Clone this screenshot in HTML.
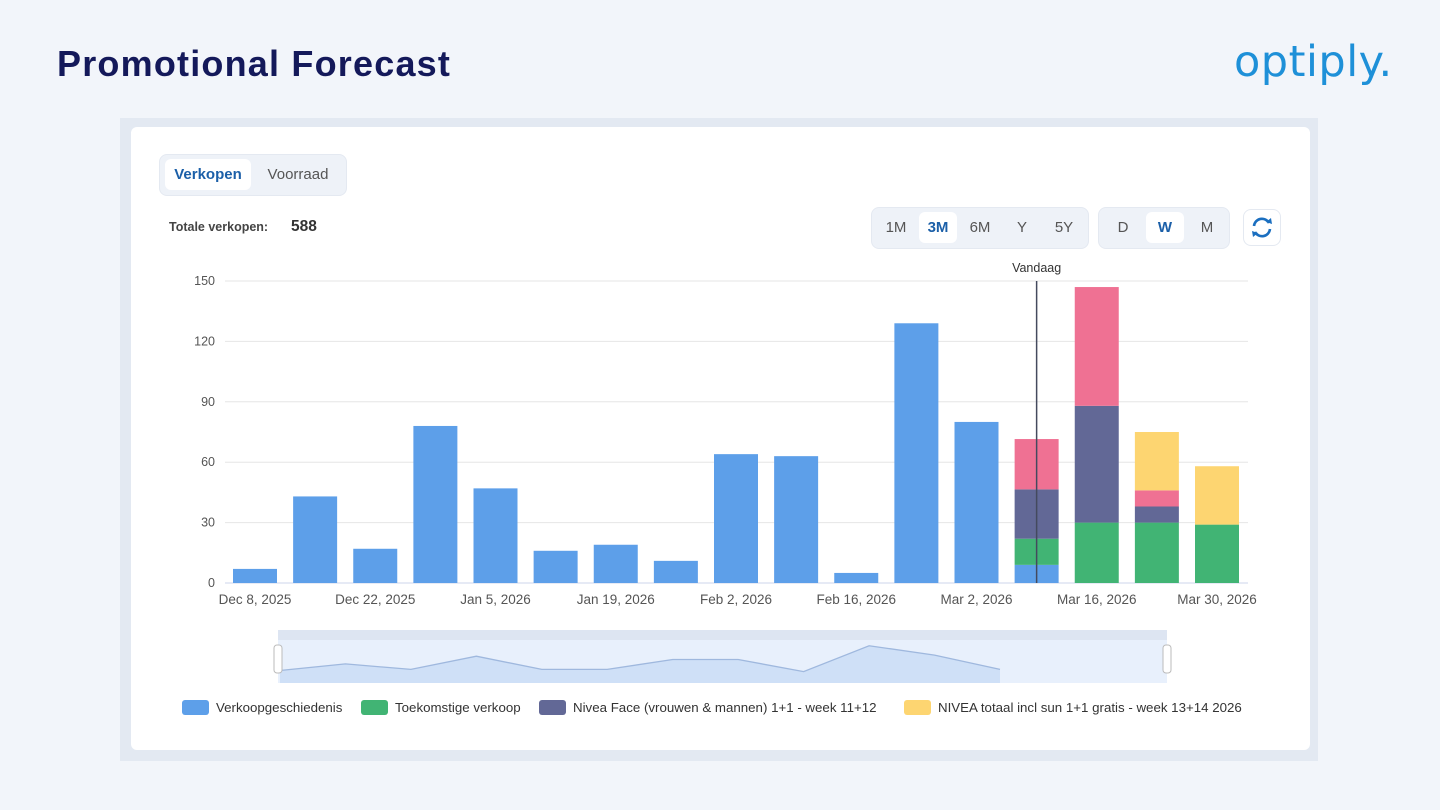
<!DOCTYPE html>
<html><head><meta charset="utf-8">
<style>
body{margin:0;width:1440px;height:810px;background:#f2f5fa;font-family:"Liberation Sans",sans-serif;overflow:hidden;position:relative}
.title{position:absolute;left:57px;top:43px;font-size:36px;font-weight:bold;color:#14195a;letter-spacing:1.2px}
.logo{position:absolute;left:1234px;top:37px;font-size:43px;color:#1e90d8;letter-spacing:0.5px;font-family:"DejaVu Sans",sans-serif}
.frame{position:absolute;left:120px;top:118px;width:1198px;height:643px;background:#e3e9f2}
.card{position:absolute;left:131px;top:127px;width:1179px;height:623px;background:#fff;border-radius:6px}
.seg{position:absolute;background:#eef2f8;border-radius:8px;border:1px solid #e4e9f1}
.btn{position:absolute;font-size:15px;color:#555;text-align:center}
.act{background:#fff;border-radius:6px;color:#1b5fa8;font-weight:bold}
</style></head><body>
<div class="title">Promotional Forecast</div>
<div class="logo">optiply.</div>
<div class="frame"></div>
<div class="card"></div>

<div class="seg" style="left:159px;top:154px;width:186px;height:40px"></div>
<div class="btn act" style="left:165px;top:159px;width:86px;height:31px;line-height:31px">Verkopen</div>
<div class="btn" style="left:255px;top:159px;width:86px;height:31px;line-height:31px">Voorraad</div>
<div style="position:absolute;left:169px;top:220px;font-size:12.5px;font-weight:bold;color:#444">Totale verkopen:</div>
<div style="position:absolute;left:291px;top:218px;font-size:15.5px;font-weight:bold;color:#333">588</div>

<div class="seg" style="left:871px;top:207px;width:216px;height:40px"></div>
<div class="btn" style="left:877px;top:212px;width:38px;height:31px;line-height:31px">1M</div>
<div class="btn act" style="left:919px;top:212px;width:38px;height:31px;line-height:31px">3M</div>
<div class="btn" style="left:961px;top:212px;width:38px;height:31px;line-height:31px">6M</div>
<div class="btn" style="left:1003px;top:212px;width:38px;height:31px;line-height:31px">Y</div>
<div class="btn" style="left:1045px;top:212px;width:38px;height:31px;line-height:31px">5Y</div>
<div class="seg" style="left:1098px;top:207px;width:130px;height:40px"></div>
<div class="btn" style="left:1104px;top:212px;width:38px;height:31px;line-height:31px">D</div>
<div class="btn act" style="left:1146px;top:212px;width:38px;height:31px;line-height:31px">W</div>
<div class="btn" style="left:1188px;top:212px;width:38px;height:31px;line-height:31px">M</div>
<div class="seg" style="left:1243px;top:209px;width:36px;height:35px;background:#fff">
<svg width="36" height="35" viewBox="0 0 36 35"><path d="M10 16 A8 8 0 0 1 25 13" fill="none" stroke="#1b6fc0" stroke-width="2.6"/><path d="M26 19 A8 8 0 0 1 11 22" fill="none" stroke="#1b6fc0" stroke-width="2.6"/><path d="M22 12 L28 14 L27 8Z" fill="#1b6fc0"/><path d="M14 23 L8 21 L9 27Z" fill="#1b6fc0"/></svg></div>

<svg id="chart" style="position:absolute;left:0;top:0" width="1440" height="810"></svg>

<script>
const categories=["Dec 8, 2025","Dec 15, 2025","Dec 22, 2025","Dec 29, 2025","Jan 5, 2026","Jan 12, 2026","Jan 19, 2026","Jan 26, 2026","Feb 2, 2026","Feb 9, 2026","Feb 16, 2026","Feb 23, 2026","Mar 2, 2026","Mar 9, 2026","Mar 16, 2026","Mar 23, 2026","Mar 30, 2026"];
const history=[7,43,17,78,47,16,19,11,64,63,5,129,80,9,0,0,0];
const future=[0,0,0,0,0,0,0,0,0,0,0,0,0,13,30,30,29];
const niveaFace=[0,0,0,0,0,0,0,0,0,0,0,0,0,24.5,58,8,0];
const promoPink=[0,0,0,0,0,0,0,0,0,0,0,0,0,25,59,8,0];
const niveaTotal=[0,0,0,0,0,0,0,0,0,0,0,0,0,0,0,29,29];
const yTicks=[0,30,60,90,120,150];
const todayIndex=13.0;
const navValues=[10,22,12,36,12,12,30,30,8,55,38,12];
const NS="http://www.w3.org/2000/svg";
const svg=document.getElementById('chart');
const x0=255,step=60.125,bw=44;
const X=i=>x0+i*step;
const Y=v=>583-v*302/150;
function el(t,a,p){const e=document.createElementNS(NS,t);for(const k in a)e.setAttribute(k,a[k]);(p||svg).appendChild(e);return e;}
yTicks.forEach(t=>{
 const g=el('line',{x1:225,x2:1248,y1:Y(t),y2:Y(t),stroke:t?'#e6e6e6':'#ccd6eb','stroke-width':1});
 
 
 const l=el('text',{x:215,y:Y(t)+4,'text-anchor':'end','font-size':12.5,fill:'#555'});l.textContent=t;
 
 
});
categories.forEach((c,i)=>{
 if(i%2===0){const l=el('text',{x:X(i),y:604,'text-anchor':'middle','font-size':13.5,fill:'#555'});l.textContent=c;
 
 }
 let base=0;
 [[history,'#5d9fe9','history'],[future,'#41b474','future'],[niveaFace,'#626896','nivea-face'],[promoPink,'#ef7193','promo'],[niveaTotal,'#fdd571','nivea-total']].forEach(([arr,col,n])=>{
  const v=arr[i];if(!v)return;
  const r=el('rect',{x:X(i)-bw/2,y:Y(base+v),width:bw,height:Y(base)-Y(base+v),fill:col});
  
  
  base+=v;
 });
});
const tx=X(todayIndex);
const tl=el('line',{x1:tx,x2:tx,y1:Y(150),y2:583,stroke:'#444a5e','stroke-width':1.5});


const tt=el('text',{x:tx,y:272,'text-anchor':'middle','font-size':12.5,fill:'#333'});tt.textContent='Vandaag';


const nb=el('rect',{x:278,y:630,width:889,height:53,fill:'#e8f0fc'});


const ns=el('rect',{x:278,y:630,width:889,height:10,fill:'#dde5f2'});


const nx0=280,nx1=1000,nyb=683;
const NX=i=>nx0+i*(nx1-nx0)/(navValues.length-1);
const NY=v=>676-v*0.55;
let d='M'+nx0+','+nyb;navValues.forEach((v,i)=>d+=' L'+NX(i)+','+NY(v));d+=' L'+nx1+','+nyb+'Z';
const na=el('path',{d:d,fill:'#cfe0f7',stroke:'none'});


let d2='M'+navValues.map((v,i)=>NX(i)+','+NY(v)).join(' L');
const nl=el('path',{d:d2,fill:'none',stroke:'#9fb8de','stroke-width':1.3});


[278,1167].forEach((hx,k)=>{const h=el('rect',{x:hx-4,y:645,width:8,height:28,rx:3,fill:'#fff',stroke:'#bbb'});
 
 });
const legendLabels=["Verkoopgeschiedenis","Toekomstige verkoop","Nivea Face (vrouwen & mannen) 1+1 - week 11+12","NIVEA totaal incl sun 1+1 gratis - week 13+14 2026"];
const legendColors=['#5d9fe9','#41b474','#626896','#fdd571'];
const legendX=[182,361,539,904];
legendLabels.forEach((t,i)=>{
 const r=el('rect',{x:legendX[i],y:700,width:27,height:15,rx:3,fill:legendColors[i]});
 
 
 const l=el('text',{x:legendX[i]+34,y:712,'font-size':13.3,fill:'#333'});l.textContent=t;
 
 
});
</script>
</body></html>
